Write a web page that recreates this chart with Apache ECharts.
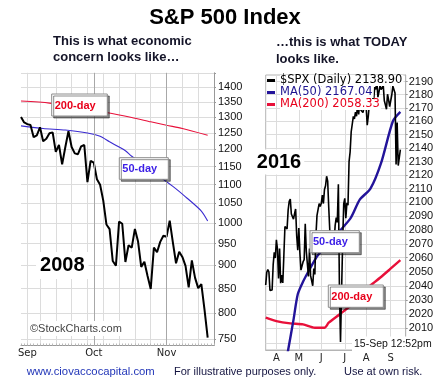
<!DOCTYPE html>
<html><head><meta charset="utf-8">
<script src="https://cdn.jsdelivr.net/npm/echarts@6/dist/echarts.min.js"></script>
<style>html,body{margin:0;padding:0;background:#fff}#c{width:448px;height:387px}</style>
</head><body><div id="c"></div>
<script>
// ---------- LEFT CHART (2008) ----------
const leftDates = ['2008-08-28','2008-08-29','2008-09-02','2008-09-03','2008-09-04','2008-09-05','2008-09-08','2008-09-09','2008-09-10','2008-09-11','2008-09-12','2008-09-15','2008-09-16','2008-09-17','2008-09-18','2008-09-19','2008-09-22','2008-09-23','2008-09-24','2008-09-25','2008-09-26','2008-09-29','2008-09-30','2008-10-01','2008-10-02','2008-10-03','2008-10-06','2008-10-07','2008-10-08','2008-10-09','2008-10-10','2008-10-13','2008-10-14','2008-10-15','2008-10-16','2008-10-17','2008-10-20','2008-10-21','2008-10-22','2008-10-23','2008-10-24','2008-10-27','2008-10-28','2008-10-29','2008-10-30','2008-10-31','2008-11-03','2008-11-04','2008-11-05','2008-11-06','2008-11-07','2008-11-10','2008-11-11','2008-11-12','2008-11-13','2008-11-14','2008-11-17','2008-11-18','2008-11-19','2008-11-20','2008-11-21','2008-11-24'];
const leftClose = [1300.68,1282.83,1277.58,1274.98,1236.83,1242.31,1267.79,1224.51,1232.04,1249.05,1251.70,1192.70,1213.60,1156.39,1206.51,1255.08,1207.09,1188.22,1185.87,1209.18,1213.27,1106.39,1166.36,1161.06,1114.28,1099.23,1056.89,996.23,984.94,909.92,899.22,1003.35,998.01,907.84,946.43,940.55,985.40,955.05,896.78,908.11,876.77,848.92,940.51,930.09,954.09,968.75,966.30,1005.75,952.77,904.88,930.99,919.21,898.95,852.30,911.29,873.29,850.75,859.12,806.58,752.44,null,null];
const leftMA50 = [['2008-08-28',1272],['2008-09-09',1264],['2008-09-18',1259],['2008-09-29',1250],['2008-10-03',1240],['2008-10-08',1223],['2008-10-13',1207],['2008-10-15',1196],['2008-10-17',1180],['2008-11-05',1095],['2008-11-11',1067],['2008-11-18',1030],['2008-11-20',1005]];
const leftMA200 = [['2008-08-28',1353],['2008-09-11',1346],['2008-10-07',1315],['2008-10-17',1299],['2008-10-27',1285],['2008-11-03',1274],['2008-11-10',1264],['2008-11-20',1243]];
const leftYLabels = [750,800,850,900,950,1000,1050,1100,1150,1200,1250,1300,1350,1400];
const leftYTicks = [750,800,850,900,950,1000,1050,1100,1150,1200,1250,1300,1350,1400,1450];
const leftMonthLabels = {'2008-09-02':'Sep','2008-10-01':'Oct','2008-11-03':'Nov'};
const leftWeekLines = ['2008-09-02','2008-09-08','2008-09-15','2008-09-22','2008-09-29','2008-10-06','2008-10-13','2008-10-20','2008-10-27','2008-11-10','2008-11-17','2008-11-24'];
const leftMonthLines = ['2008-10-01','2008-11-03'];

// ---------- RIGHT CHART (2016) ----------
const rightTradingDays = [['03',[17,18,21,22,23,24,28,29,30,31]],['04',[1,4,5,6,7,8,11,12,13,14,15,18,19,20,21,22,25,26,27,28,29]],['05',[2,3,4,5,6,9,10,11,12,13,16,17,18,19,20,23,24,25,26,27,31]],['06',[1,2,3,6,7,8,9,10,13,14,15,16,17,20,21,22,23,24,27,28,29,30]],['07',[1,5,6,7,8,11,12,13,14,15,18,19,20,21,22,25,26,27,28,29]],['08',[1,2,3,4,5,8,9,10,11,12,15,16,17,18,19,22,23,24,25,26,29,30,31]],['09',[1,2,6,7,8,9,12,13,14,15,16,19,20,21,22]]];
const rightDates = [];
rightTradingDays.forEach(([m, days]) => days.forEach(d => rightDates.push('2016-' + m + '-' + String(d).padStart(2, '0'))));
const rightClose = [2040.59,2049.58,2051.60,2049.80,2036.71,2035.94,2037.05,2055.01,2063.95,2059.74,
2072.78,2066.13,2045.17,2066.66,2041.91,2047.60,2041.99,2061.72,2082.42,2082.78,
2080.73,2094.34,2100.80,2102.40,2091.48,2091.58,2087.79,2091.70,2095.15,2075.81,
2065.30,2081.43,2063.37,2051.12,2050.63,2057.14,2058.69,2084.39,2064.46,2064.11,
2046.61,2066.66,2047.21,2047.63,2040.04,2052.32,2048.04,2076.06,2090.54,2090.10,
2099.06,2096.95,2099.33,2105.26,2099.13,2109.41,2112.13,2119.12,2115.48,2096.07,
2079.06,2075.32,2071.50,2077.99,2071.22,2083.25,2088.90,2085.45,2113.32,2037.41,
2000.54,2036.09,2070.77,2098.86,2102.95,2088.55,2099.73,2097.90,2129.90,2137.16,
2152.14,2152.43,2163.75,2161.74,2166.89,2163.78,2173.02,2165.17,2175.03,2168.48,
2169.18,2166.58,2170.06,2173.60,2170.84,2157.03,2163.79,2164.25,2182.87,2180.89,
2181.74,2175.49,2185.79,2184.05,2190.15,2178.15,2182.22,2187.02,2183.87,2182.64,
2186.90,2175.44,2172.47,2169.04,2180.38,2176.12,2170.95,2170.86,2179.98,2186.48,
2186.16,2181.30,2127.81,2159.04,2127.02,2125.77,2138.90,null,null,null,null,null];
const rightMA50 = [['2016-04-12',1978],['2016-04-18',1995],['2016-04-25',2016],['2016-04-29',2034],['2016-05-06',2043],['2016-05-16',2051.6],['2016-05-26',2062],['2016-07-11',2088],['2016-07-22',2102],['2016-08-05',2110],['2016-08-19',2129],['2016-09-06',2160],['2016-09-15',2167.04]];
const rightMA200 = [['2016-03-17',2017.5],['2016-04-01',2015.1],['2016-04-20',2013.5],['2016-05-06',2012.8],['2016-05-23',2010.5],['2016-06-06',2010.5],['2016-06-10',2014],['2016-06-24',2019.8],['2016-07-11',2025.6],['2016-07-22',2032.7],['2016-08-05',2040.2],['2016-08-18',2045.7],['2016-08-31',2051.6],['2016-09-15',2058.33]];
const rightYLabels = [2010,2020,2030,2040,2050,2060,2070,2080,2090,2100,2110,2120,2130,2140,2150,2160,2170,2180,2190];
const rightYTicks = [2000,2010,2020,2030,2040,2050,2060,2070,2080,2090,2100,2110,2120,2130,2140,2150,2160,2170,2180,2190];
const rightMonthLabels = {'2016-04-01':'A','2016-05-02':'M','2016-06-01':'J','2016-07-01':'J','2016-08-01':'A','2016-09-01':'S'};
const seriesNames = ['$SPX (Daily) 2138.90','MA(50) 2167.04','MA(200) 2058.33'];

const AR = '"Liberation Sans", Arial, sans-serif';
const DV = '"DejaVu Sans", Verdana, sans-serif';
const plain = v => String(Math.round(v));

function note(x, y, w, h, text, color) {
  return {type:'group', x:x, y:y, z:100, children:[
    {type:'rect', z:100, shape:{x:0,y:0,width:w,height:h}, style:{fill:'#fff', stroke:'#8c8c8c', lineWidth:1, shadowColor:'rgba(0,0,0,0.45)', shadowOffsetX:2, shadowOffsetY:2, shadowBlur:0}},
    {type:'text', z:101, x:3, y:h/2+0.5, style:{text:text, fill:color, font:'bold 11px ' + AR, align:'left', textAlign:'left', verticalAlign:'middle', textVerticalAlign:'middle'}}
  ]};
}
function txt(x, y, text, font, color, align, extra) {
  return {type:'text', z:100, x:x, y:y, style:Object.assign({text:text, font:font, fill:color, align:align||'left', textAlign:align||'left', verticalAlign:'middle', textVerticalAlign:'middle'}, extra||{})};
}

const option = {
  animation: false,
  backgroundColor: '#fff',
  grid: [
    {left: 21, top: 72.8, width: 193, height: 272.7, show: false},
    {left: 265.7, top: 75, width: 140, height: 275, show: true, borderColor: '#b4b4b4', borderWidth: 1}
  ],
  legend: {
    left: 267, top: 74.5, orient: 'vertical', itemGap: 0, itemWidth: 8, itemHeight: 3, icon: 'rect', padding: 0, selectedMode: false, z: 20,
    textStyle: {fontFamily: DV, fontSize: 11.5, lineHeight: 11, backgroundColor: '#fff', padding: [0, 1, 0, 0]},
    data: [
      {name: seriesNames[0], textStyle: {color: '#000'}},
      {name: seriesNames[1], textStyle: {color: '#1e1490'}},
      {name: seriesNames[2], textStyle: {color: '#e8001c'}}
    ]
  },
  xAxis: [
    {gridIndex: 0, type: 'category', data: leftDates, boundaryGap: false,
     axisLine: {show: true, lineStyle: {color: '#999'}},
     axisTick: {show: true, interval: 0, inside: true, length: 2, lineStyle: {color: '#bbb'}},
     axisLabel: {interval: (i, v) => v in leftMonthLabels, formatter: v => leftMonthLabels[v] || '', fontFamily: DV, fontSize: 10, color: '#222', margin: 3},
     splitLine: {show: true, interval: (i, v) => leftWeekLines.indexOf(v) >= 0, lineStyle: {color: '#dcdcdc'}}},
    {gridIndex: 1, type: 'category', data: rightDates, boundaryGap: false,
     axisLine: {show: true, lineStyle: {color: '#b4b4b4'}},
     axisTick: {show: false},
     axisLabel: {interval: (i, v) => v in rightMonthLabels, formatter: v => rightMonthLabels[v] || '', fontFamily: DV, fontSize: 10, color: '#222', margin: 3},
     splitLine: {show: true, interval: (i, v) => v in rightMonthLabels, lineStyle: {color: '#dcdcdc'}}}
  ],
  yAxis: [
    {gridIndex: 0, type: 'log', logBase: 10, position: 'right', min: 738, max: 1451,
     axisLine: {show: true, lineStyle: {color: '#999'}},
     axisTick: {show: true, customValues: leftYTicks, length: 2, lineStyle: {color: '#999'}},
     axisLabel: {customValues: leftYLabels, formatter: plain, fontFamily: AR, fontSize: 11, color: '#111', margin: 4},
     splitLine: {show: true, lineStyle: {color: '#dcdcdc'}}},
    {gridIndex: 1, type: 'log', logBase: 10, position: 'right', min: 1995, max: 2195,
     axisLine: {show: true, lineStyle: {color: '#b4b4b4'}},
     axisTick: {show: true, customValues: rightYTicks, length: 2, lineStyle: {color: '#999'}},
     axisLabel: {customValues: rightYLabels, formatter: plain, fontFamily: AR, fontSize: 11, color: '#111', margin: 3},
     splitLine: {show: true, lineStyle: {color: '#dcdcdc'}}}
  ],
  series: [
    {type: 'line', xAxisIndex: 0, yAxisIndex: 0, data: leftMA200, symbol: 'none', connectNulls: true, smooth: 0.25, z: 2,
     lineStyle: {color: '#e8103a', width: 1.1}, itemStyle: {color: '#e8103a'},
     markLine: {silent: true, symbol: 'none', label: {show: false}, lineStyle: {color: '#a8a8a8', type: 'solid', width: 1},
       data: leftMonthLines.map(d => ({xAxis: d}))}},
    {type: 'line', xAxisIndex: 0, yAxisIndex: 0, data: leftMA50, symbol: 'none', connectNulls: true, smooth: 0.25, z: 2,
     lineStyle: {color: '#3a2bd0', width: 1.1}, itemStyle: {color: '#3a2bd0'}},
    {type: 'line', xAxisIndex: 0, yAxisIndex: 0, data: leftClose, symbol: 'none', z: 3,
     lineStyle: {color: '#000', width: 2}, itemStyle: {color: '#000'}},
    {name: seriesNames[2], type: 'line', xAxisIndex: 1, yAxisIndex: 1, data: rightMA200, symbol: 'none', connectNulls: true, smooth: 0.25, z: 2,
     lineStyle: {color: '#e8103a', width: 2.4}, itemStyle: {color: '#e8103a'}},
    {name: seriesNames[1], type: 'line', xAxisIndex: 1, yAxisIndex: 1, data: rightMA50, symbol: 'none', connectNulls: true, smooth: 0.25, z: 2,
     lineStyle: {color: '#23149a', width: 2.4}, itemStyle: {color: '#23149a'}},
    {name: seriesNames[0], type: 'line', xAxisIndex: 1, yAxisIndex: 1, data: rightClose, symbol: 'none', z: 3,
     lineStyle: {color: '#000', width: 1.6}, itemStyle: {color: '#000'}}
  ],
  graphic: [
    txt(225, 18, 'S&P 500 Index', 'bold 22px ' + AR, '#000', 'center'),
    txt(53, 41.5, 'This is what economic', 'bold 13px ' + AR, '#141428'),
    txt(53, 57.5, 'concern looks like\u2026', 'bold 13px ' + AR, '#141428'),
    txt(276, 42.5, '\u2026this is what TODAY', 'bold 13px ' + AR, '#141428'),
    txt(276, 59, 'looks like.', 'bold 13px ' + AR, '#141428'),
    note(51.7, 94, 55.6, 22, '200-day', '#e8001a'),
    note(119.3, 157.7, 49, 21.6, '50-day', '#3b1ee6'),
    note(310, 230.7, 49.3, 22, '50-day', '#3b1ee6'),
    note(328.3, 285, 55, 22.3, '200-day', '#e8001a'),
    txt(62.3, 265.5, '2008', 'bold 20px ' + AR, '#000', 'center', {backgroundColor: '#fff', padding: [4, 4, 3, 4]}),
    txt(279, 162, '2016', 'bold 20px ' + AR, '#000', 'center', {backgroundColor: '#fff', padding: [3, 3, 2, 3]}),
    txt(28, 328.5, '\u00a9StockCharts.com', '11px ' + AR, '#444', 'left', {backgroundColor: '#fff', padding: [2, 3, 2, 2]}),
    txt(352, 344, '15-Sep 12:52pm', '10.5px ' + AR, '#111', 'left', {backgroundColor: '#fff', padding: [2, 4, 2, 2]}),
    txt(26.7, 372, 'www.ciovaccocapital.com', '11.3px ' + AR, '#2236b8'),
    txt(174, 372, 'For illustrative purposes only.', '11px ' + AR, '#141440'),
    txt(344, 372, 'Use at own risk.', '11px ' + AR, '#141440')
  ]
};
const chart = echarts.init(document.getElementById('c'), null, {renderer: 'canvas'});
chart.setOption(option);
</script></body></html>
